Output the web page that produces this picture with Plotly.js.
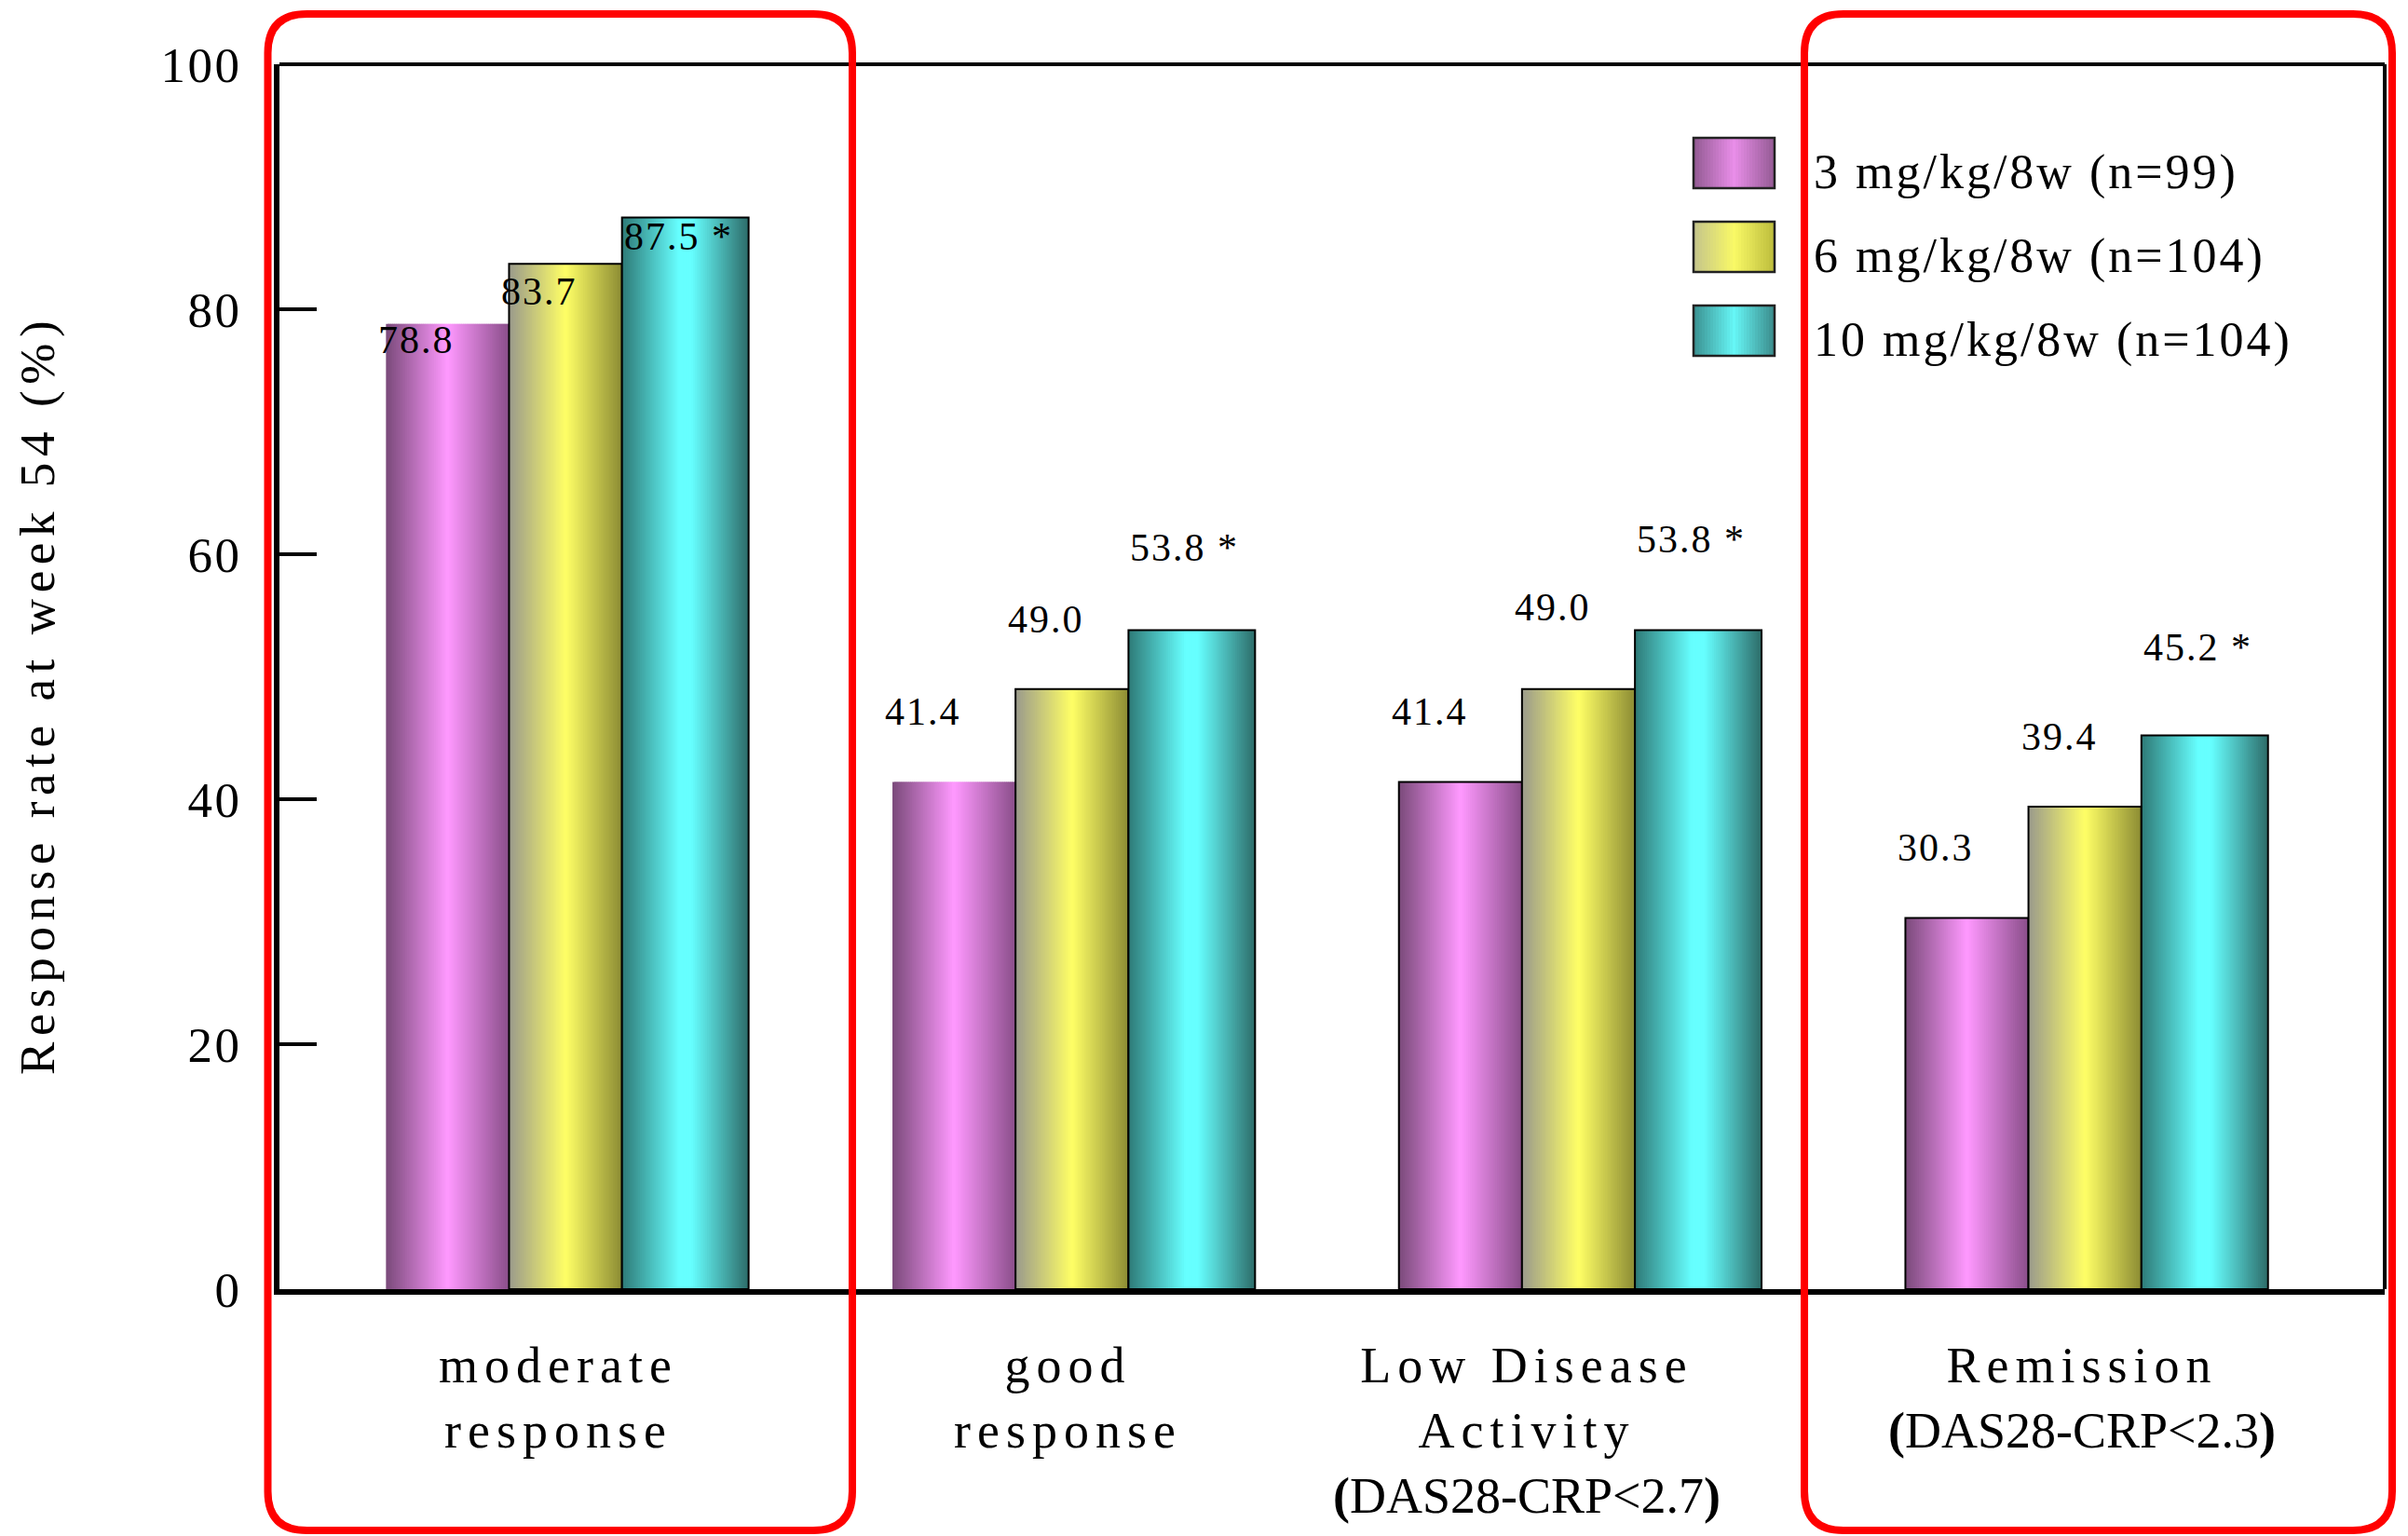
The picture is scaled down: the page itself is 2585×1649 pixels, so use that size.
<!DOCTYPE html>
<html>
<head>
<meta charset="utf-8">
<script src="https://cdn.plot.ly/plotly-3.0.1.min.js"></script>
<style>
  html, body { margin: 0; padding: 0; background: #fff; }
  #chart { width: 2585px; height: 1649px; }
</style>
</head>
<body>
<div id="chart"></div>
<script>
// ---- data ----
const categoryLines = [
  ['moderate', 'response'],
  ['good', 'response'],
  ['Low Disease', 'Activity', '(DAS28-CRP<2.7)'],
  ['Remission', '(DAS28-CRP<2.3)']
];
const seriesNames = ['3 mg/kg/8w (n=99)', '6 mg/kg/8w (n=104)', '10 mg/kg/8w (n=104)'];
const dose3mg = [78.8, 41.4, 41.4, 30.3];
const dose6mg = [83.7, 49.0, 49.0, 39.4];
const dose10mg = [87.5, 53.8, 53.8, 45.2];
const dose10mgSignificant = [true, true, true, true];
const yTickValues = [0, 20, 40, 60, 80, 100];

// ---- styling ----
const FONT = '"Liberation Serif", "Times New Roman", serif';
const seriesValues = [dose3mg, dose6mg, dose10mg];
// cylinder-like shading across each bar (left edge -> highlight -> right edge)
const seriesShading = [
  [[0, '#7a4a7a'], [0.5, '#ff99ff'], [1, '#8a4e8a']],
  [[0, '#9a9a8c'], [0.5, '#ffff66'], [1, '#8c8c34']],
  [[0, '#2e7a77'], [0.45, '#66ffff'], [0.55, '#66ffff'], [1, '#2d6c69']]
];
const legendShading = [
  [[0, '#925a92'], [0.5, '#e98ee9'], [1, '#935a93']],
  [[0, '#c4c48c'], [0.5, '#f9f966'], [1, '#bcbc3c']],
  [[0, '#3a9090'], [0.5, '#66f6f6'], [1, '#3a8a8a']]
];
const barOffset = [-0.358, -0.115, 0.108];
const barWidth = [0.243, 0.223, 0.250];
const outlineWidth = [[0, 0, 2, 2], [2, 2, 2, 2], [2, 2, 2, 2]];
// vertical placement of value labels (px above bar top), by category then series
const labelLift = [[-17, -30, -21], [76, 75, 89], [76, 88, 98], [76, 75, 95]];
const labelNudge = [-10, -10, 0];
const categoryNudge = [-9, -6, -57, -5];
const SLICES = 64;

// plot-area edges in page pixels
const L = 300, R = 2560, T = 69, B = 1384;
const px = v => (v - L) / (R - L);
const py = v => (B - v) / (B - T);

function hex(h) { return [1, 3, 5].map(i => parseInt(h.substr(i, 2), 16)); }
function shade(stops, t) {
  for (let i = 1; i < stops.length; i++) {
    if (t <= stops[i][0]) {
      const [t0, c0] = stops[i - 1], [t1, c1] = stops[i];
      const f = (t - t0) / (t1 - t0 || 1);
      const a = hex(c0), b = hex(c1);
      return 'rgb(' + a.map((v, k) => Math.round(v + (b[k] - v) * f)).join(',') + ')';
    }
  }
  return stops[stops.length - 1][1];
}

const xIdx = categoryLines.map((_, i) => i);
const traces = [];
seriesValues.forEach((vals, s) => {
  const w = barWidth[s] / SLICES;
  for (let k = 0; k < SLICES; k++) {
    traces.push({
      type: 'bar', x: xIdx, y: vals,
      offset: barOffset[s] + k * w, width: k === SLICES - 1 ? w : w * 1.8,
      marker: { color: shade(seriesShading[s], (k + 0.5) / SLICES), line: { width: 0 } },
      hoverinfo: 'skip', showlegend: false
    });
  }
  traces.push({
    type: 'bar', x: xIdx, y: vals, name: seriesNames[s],
    offset: barOffset[s], width: barWidth[s],
    marker: { color: 'rgba(0,0,0,0)', line: { color: '#000', width: outlineWidth[s] } },
    showlegend: false
  });
});

const annotations = [];
// value labels
seriesValues.forEach((vals, s) => {
  vals.forEach((v, i) => {
    let txt = v.toFixed(1);
    if (s === 2 && dose10mgSignificant[i]) txt += ' *';
    annotations.push({
      xref: 'x', yref: 'y', x: i + barOffset[s], y: v,
      xanchor: 'left', yanchor: 'middle',
      xshift: labelNudge[s], yshift: labelLift[i][s],
      text: '<span style="letter-spacing:2px">' + txt + '</span>',
      showarrow: false, font: { family: FONT, size: 42, color: '#000' }
    });
  });
});
// category labels
categoryLines.forEach((lines, i) => {
  const html = lines.map(line => {
    if (line.startsWith('(')) {
      const inner = line.slice(1, -1).replace(/</g, '&lt;');
      return '<b>(</b>' + inner + '<b>)</b>';
    }
    return '<span style="letter-spacing:7px">' + line + '</span>';
  }).join('<br>');
  annotations.push({
    xref: 'x', yref: 'y', x: i, y: 0, xanchor: 'center', yanchor: 'top',
    xshift: categoryNudge[i], yshift: -50,
    text: html, showarrow: false, align: 'center',
    font: { family: FONT, size: 54, color: '#000' }
  });
});
// y-axis title
annotations.push({
  xref: 'paper', yref: 'paper', x: px(41), y: py(746),
  xanchor: 'center', yanchor: 'middle', textangle: -90,
  text: '<span style="letter-spacing:6.6px">Response rate at week 54 (%)</span>',
  showarrow: false, font: { family: FONT, size: 53, color: '#000' }
});

const shapes = [];
// frame: top and right edges
shapes.push({ type: 'line', xref: 'paper', yref: 'paper', x0: 0, x1: 1, y0: 1, y1: 1, line: { color: '#000', width: 4 } });
shapes.push({ type: 'line', xref: 'paper', yref: 'paper', x0: 1, x1: 1, y0: 0, y1: 1, line: { color: '#000', width: 4 } });

// legend keys
const legendTop = [148, 238, 328], keyL = 1818, keyR = 1905, keyH = 54;
seriesNames.forEach((name, s) => {
  const n = 29, step = (keyR - keyL) / n;
  for (let k = 0; k < n; k++) {
    shapes.push({
      type: 'rect', xref: 'paper', yref: 'paper',
      x0: px(keyL + k * step), x1: px(keyL + (k + 1) * step + 0.8),
      y0: py(legendTop[s] + keyH), y1: py(legendTop[s]),
      fillcolor: shade(legendShading[s], (k + 0.5) / n), line: { width: 0 }
    });
  }
  shapes.push({
    type: 'rect', xref: 'paper', yref: 'paper',
    x0: px(keyL), x1: px(keyR), y0: py(legendTop[s] + keyH), y1: py(legendTop[s]),
    line: { color: '#222', width: 2.5 }
  });
  annotations.push({
    xref: 'paper', yref: 'paper', x: px(1945), y: py(legendTop[s] + 37),
    xanchor: 'left', yanchor: 'middle',
    text: '<span style="letter-spacing:3px">' + name + '</span>',
    showarrow: false, font: { family: FONT, size: 52, color: '#000' }
  });
});

// red highlight frames with rounded corners
function roundRect(x0, y0, x1, y1, r) {
  const X = v => px(v).toFixed(5), Y = v => py(v).toFixed(5);
  return 'M' + X(x0 + r) + ',' + Y(y0) +
    ' L' + X(x1 - r) + ',' + Y(y0) + ' Q' + X(x1) + ',' + Y(y0) + ' ' + X(x1) + ',' + Y(y0 + r) +
    ' L' + X(x1) + ',' + Y(y1 - r) + ' Q' + X(x1) + ',' + Y(y1) + ' ' + X(x1 - r) + ',' + Y(y1) +
    ' L' + X(x0 + r) + ',' + Y(y1) + ' Q' + X(x0) + ',' + Y(y1) + ' ' + X(x0) + ',' + Y(y1 - r) +
    ' L' + X(x0) + ',' + Y(y0 + r) + ' Q' + X(x0) + ',' + Y(y0) + ' ' + X(x0 + r) + ',' + Y(y0) + ' Z';
}
[[287.5, 915], [1937, 2568]].forEach(([a, b]) => {
  shapes.push({
    type: 'path', xref: 'paper', yref: 'paper', layer: 'above',
    path: roundRect(a, 15, b, 1643, 42),
    line: { color: '#ff0000', width: 8 }
  });
});

const layout = {
  width: 2585, height: 1649,
  margin: { l: L, r: 2585 - R, t: T, b: 1649 - B, pad: 0 },
  paper_bgcolor: '#fff', plot_bgcolor: '#fff',
  barmode: 'overlay', showlegend: false,
  font: { family: FONT, color: '#000' },
  xaxis: {
    type: 'linear', range: [-0.5683, 3.5884], fixedrange: true,
    showline: true, linecolor: '#000', linewidth: 6,
    showticklabels: false, ticks: '', showgrid: false, zeroline: false
  },
  yaxis: {
    range: [0, 100], fixedrange: true,
    tickvals: yTickValues,
    ticktext: yTickValues.map(v => '<span style="letter-spacing:2.5px">' + v + '</span>'),
    ticks: 'inside', ticklen: 40, tickwidth: 4, tickcolor: '#000',
    showline: true, linecolor: '#000', linewidth: 6,
    showgrid: false, zeroline: false,
    tickfont: { family: FONT, size: 53, color: '#000' },
    ticklabelstandoff: 24
  },
  annotations: annotations,
  shapes: shapes
};

Plotly.newPlot('chart', traces, layout, { staticPlot: true, displayModeBar: false });
</script>
</body>
</html>
